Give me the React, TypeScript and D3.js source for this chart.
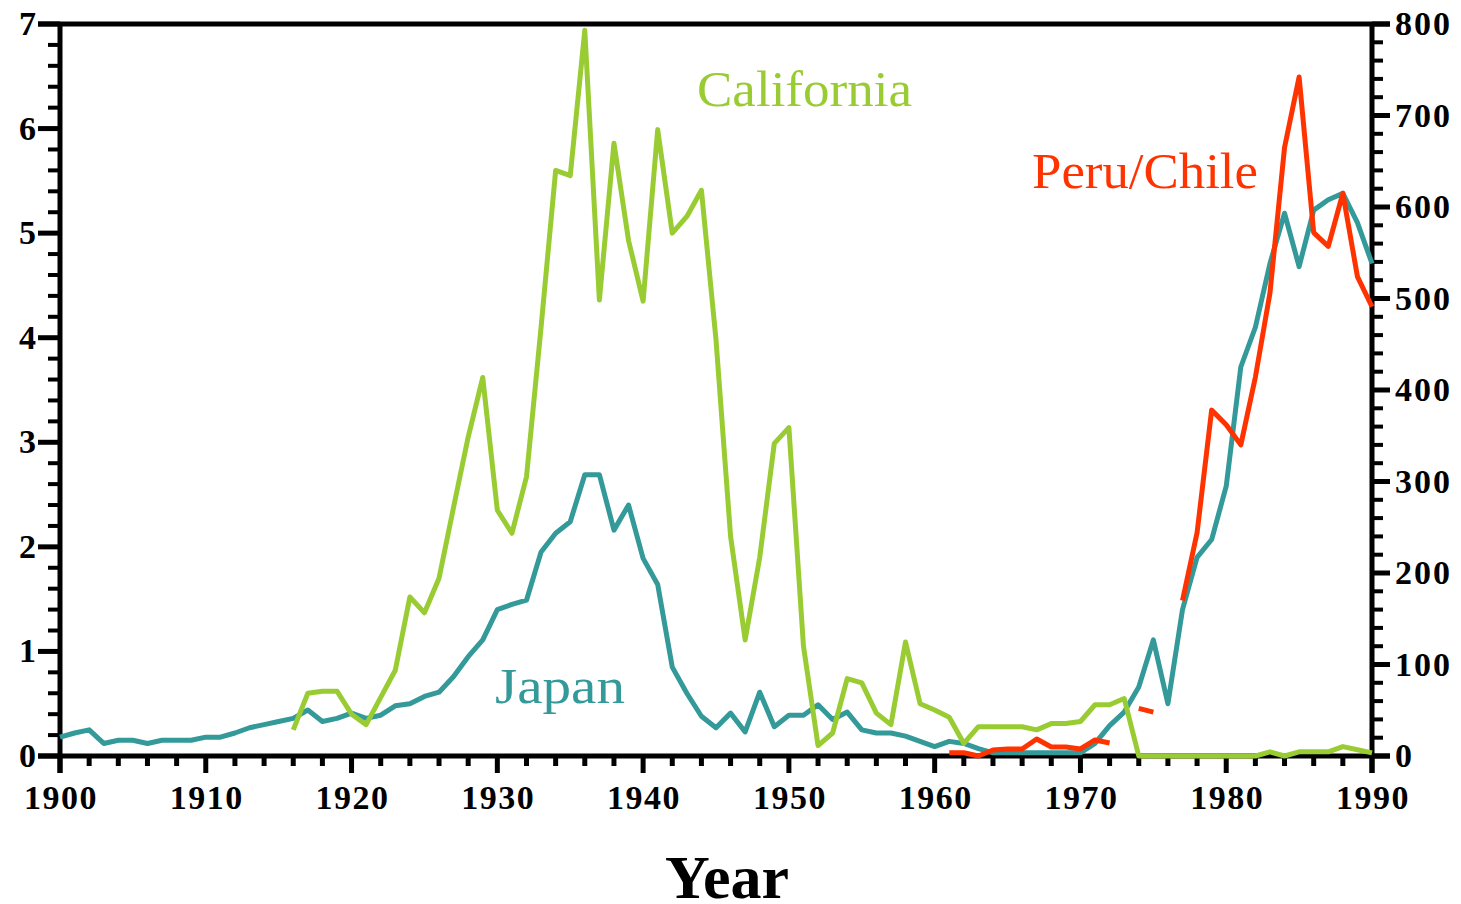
import React from "react";
import * as d3 from "d3";

// ---- data ----
const japanYears = d3.range(1900, 1991);
const japanValues = [
  0.18, 0.22, 0.25, 0.12, 0.15, 0.15, 0.12, 0.15, 0.15, 0.15,
  0.18, 0.18, 0.22, 0.27, 0.30, 0.33, 0.36, 0.44, 0.33, 0.36,
  0.41, 0.36, 0.39, 0.48, 0.50, 0.57, 0.61, 0.76, 0.95, 1.11,
  1.40, 1.45, 1.49, 1.95, 2.13, 2.24, 2.69, 2.69, 2.16, 2.40,
  1.89, 1.64, 0.85, 0.60, 0.38, 0.27, 0.41, 0.23, 0.61, 0.28,
  0.39, 0.39, 0.49, 0.35, 0.42, 0.25, 0.22, 0.22, 0.19, 0.14,
  0.09, 0.14, 0.12, 0.07, 0.03, 0.03, 0.03, 0.03, 0.03, 0.03,
  0.03, 0.12, 0.29, 0.42, 0.66, 1.11, 0.50, 1.40, 1.90, 2.07,
  2.58, 3.72, 4.10, 4.71, 5.19, 4.68, 5.22, 5.32, 5.38, 5.10,
  4.71,
];

const californiaYears = d3.range(1916, 1991);
const californiaValues = [
  0.25, 0.60, 0.62, 0.62,
  0.40, 0.30, 0.56, 0.82, 1.52, 1.37, 1.70, 2.38, 3.05, 3.62,
  2.35, 2.13, 2.67, 4.10, 5.60, 5.55, 6.94, 4.36, 5.86, 4.93,
  4.35, 5.99, 5.00, 5.16, 5.41, 3.98, 2.10, 1.11, 1.90, 2.99,
  3.14, 1.05, 0.10, 0.22, 0.74, 0.70, 0.41, 0.30, 1.09, 0.50,
  0.44, 0.37, 0.12, 0.28, 0.28, 0.28, 0.28, 0.25, 0.31, 0.31,
  0.33, 0.49, 0.49, 0.55, 0.00, 0.00, 0.00, 0.00, 0.00, 0.00,
  0.00, 0.00, 0.00, 0.04, 0.00, 0.04, 0.04, 0.04, 0.09, 0.06,
  0.03,
];

const peruYears = d3.range(1961, 1991);
const peruValues: (number | null)[] = [
  3.6, 3.6, 0, 6.6, 7.7, 7.7, 18.6, 9.8, 9.8,
  7.7, 17.5, 14.2, null, 52, 48, null, 170, 244, 378,
  362, 340, 414, 506, 665, 742, 572, 557, 615, 524,
  491,
];

const xTickLabels = ["1900", "1910", "1920", "1930", "1940", "1950", "1960", "1970", "1980", "1990"];
const leftTickLabels = ["0", "1", "2", "3", "4", "5", "6", "7"];
const rightTickLabels = ["0", "100", "200", "300", "400", "500", "600", "700", "800"];

const GREEN = "#99cc33";
const TEAL = "#339999";
const RED = "#ff3300";
const FONT = "'Liberation Serif', 'Times New Roman', serif";

export default function App() {
  const W = 1461, H = 904;
  const x = d3.scaleLinear().domain([1900, 1990]).range([60, 1372]);
  const yL = d3.scaleLinear().domain([0, 7]).range([756, 24]);
  const yR = d3.scaleLinear().domain([0, 800]).range([756, 24]);

  const lineL = d3
    .line<[number, number]>()
    .x((d) => x(d[0]))
    .y((d) => yL(d[1]));
  const lineR = d3
    .line<[number, number | null]>()
    .defined((d) => d[1] !== null)
    .x((d) => x(d[0]))
    .y((d) => yR(d[1] as number));

  const japanPath = lineL(japanYears.map((yr, i) => [yr, japanValues[i]] as [number, number]));
  const caliPath = lineL(californiaYears.map((yr, i) => [yr, californiaValues[i]] as [number, number]));
  const peruPath = lineR(peruYears.map((yr, i) => [yr, peruValues[i]] as [number, number | null]));

  const leftMinor = d3.range(0, 35).map((i) => i * 0.2).filter((v, i) => i % 5 !== 0);
  const rightMinor = d3.range(0, 40).map((i) => i * 20).filter((v, i) => i % 5 !== 0);
  const xMinor = d3.range(1900, 1991, 2).filter((v) => v % 10 !== 0);

  const xL = x(1900), xR = x(1990), yTop = yL(7), yBot = yL(0);

  return (
    <div style={{ position: "absolute", left: 0, top: 0 }}>
      <svg width={W} height={H} style={{ display: "block", background: "#fff" }}>
        <rect x={0} y={0} width={W} height={H} fill="#fff" />
        {/* frame */}
        <g stroke="#000" fill="none">
          <line x1={38} x2={1390} y1={yTop} y2={yTop} strokeWidth={5} />
          <line x1={38} x2={1390} y1={yBot} y2={yBot} strokeWidth={5} />
          <line x1={xL} x2={xL} y1={yTop} y2={773} strokeWidth={5} />
          <line x1={xR} x2={xR} y1={yTop} y2={773} strokeWidth={5} />
          {/* left ticks */}
          {leftMinor.map((v) => (
            <line key={"lm" + v} x1={48} x2={xL} y1={yL(v)} y2={yL(v)} strokeWidth={4} />
          ))}
          {leftTickLabels.map((t) => (
            <line key={"lM" + t} x1={38} x2={xL} y1={yL(+t)} y2={yL(+t)} strokeWidth={5} />
          ))}
          {/* right ticks */}
          {rightMinor.map((v) => (
            <line key={"rm" + v} x1={xR} x2={1383} y1={yR(v)} y2={yR(v)} strokeWidth={4} />
          ))}
          {rightTickLabels.map((t) => (
            <line key={"rM" + t} x1={xR} x2={1390} y1={yR(+t)} y2={yR(+t)} strokeWidth={5} />
          ))}
          {/* bottom ticks */}
          {xMinor.map((v) => (
            <line key={"xm" + v} x1={x(v)} x2={x(v)} y1={yBot} y2={766} strokeWidth={5} />
          ))}
          {xTickLabels.map((t) => (
            <line key={"xM" + t} x1={x(+t)} x2={x(+t)} y1={yBot} y2={773} strokeWidth={5} />
          ))}
        </g>
        {/* tick labels */}
        <g fontFamily={FONT} fontWeight="bold" fontSize={34} fill="#000">
          {leftTickLabels.map((t) => (
            <text key={"lt" + t} x={36} y={yL(+t) + 11} textAnchor="end">
              {t}
            </text>
          ))}
          {rightTickLabels.map((t) => (
            <text key={"rt" + t} x={1395} y={yR(+t) + 11} textAnchor="start" letterSpacing={2}>
              {t}
            </text>
          ))}
          {xTickLabels.map((t) => (
            <text key={"xt" + t} x={x(+t) + 1} y={809} textAnchor="middle" letterSpacing={1.5}>
              {t}
            </text>
          ))}
        </g>
        {/* data lines */}
        <path d={japanPath || ""} fill="none" stroke={TEAL} strokeWidth={5} strokeLinejoin="round" />
        <path d={caliPath || ""} fill="none" stroke={GREEN} strokeWidth={5} strokeLinejoin="round" />
        <path d={peruPath || ""} fill="none" stroke={RED} strokeWidth={5} strokeLinejoin="round" />
        {/* series labels */}
        <g fontFamily={FONT} fontSize={50}>
          <text x={697} y={106} fill={GREEN} textLength={215} lengthAdjust="spacingAndGlyphs">
            California
          </text>
          <text x={1032} y={188} fill={RED} textLength={226} lengthAdjust="spacingAndGlyphs">
            Peru/Chile
          </text>
          <text x={495} y={703} fill={TEAL} textLength={130} lengthAdjust="spacingAndGlyphs">
            Japan
          </text>
        </g>
        <text x={727} y={898} textAnchor="middle" fontFamily={FONT} fontWeight="bold" fontSize={62} fill="#000">
          Year
        </text>
      </svg>
    </div>
  );
}
